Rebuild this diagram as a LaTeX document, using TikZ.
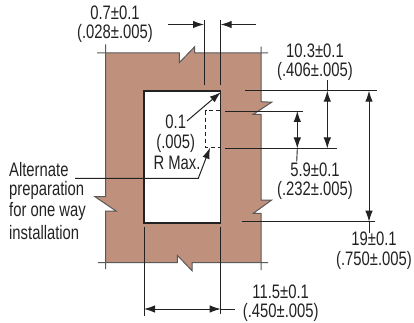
\documentclass[tikz,border=0pt]{standalone}
\usepackage{fontspec}
\setmainfont[FakeStretch=0.76]{Liberation Sans}
\usetikzlibrary{arrows.meta}
\definecolor{wood}{HTML}{BF917C}
\definecolor{ink}{HTML}{222222}
\tikzset{
    dimline/.style={draw=ink, line width=0.9pt},
    dimarrow/.style={draw=ink, line width=1pt, {Latex[length=11pt,width=7.5pt]}-{Latex[length=11pt,width=7.5pt]}},
    onearrow/.style={draw=ink, line width=1pt, -{Latex[length=11pt,width=7.5pt]}},
    label/.style={text=ink, inner sep=0pt, align=center, font=\fontsize{19.5}{23}\selectfont},
}
\begin{document}
\begin{tikzpicture}[x=1pt, y=-1pt]
    \useasboundingbox (0,0) rectangle (414,323);

    % board with break marks
    \fill[wood] (105.5,53) -- (179.3,53) -- (179.3,62.7) -- (194.7,46.7) -- (194.7,53) -- (261,53)
        -- (261,101.7) -- (271.7,102.2) -- (253.3,114.3) -- (261,114.3)
        -- (261,200) -- (271.7,200) -- (253.3,213.3) -- (261,213.3) -- (261,262.5)
        -- (192,262.5) -- (192,270.7) -- (177.3,255.3) -- (177.3,262.5) -- (105.5,262.5)
        -- (105.5,211) -- (116,211) -- (95,196.7) -- (105.5,196.7) -- cycle;
    \draw[draw=black!65, line width=1pt] (97,53) -- (179.3,53) -- (179.3,62.7) -- (194.7,46.7) -- (194.7,53) -- (268,53);
    \draw[draw=black!65, line width=1pt] (261,46.7) -- (261,101.7) -- (271.7,102.2) -- (253.3,114.3) -- (261,114.3)
        -- (261,200) -- (271.7,200) -- (253.3,213.3) -- (261,213.3) -- (261,270);
    \draw[draw=black!65, line width=1pt] (98,262.5) -- (177.3,262.5) -- (177.3,255.3) -- (192,270.7) -- (192,262.5) -- (268,262.5);
    \draw[draw=black!65, line width=1pt] (105.5,44.5) -- (105.5,196.7) -- (95,196.7) -- (116,211) -- (105.5,211) -- (105.5,269);

    % opening
    \draw[draw=ink, fill=white, line width=1.1pt] (144,91) rectangle (220.7,223);
    \draw[draw=ink, line width=1pt, dash pattern=on 4pt off 3pt] (220,111) -- (205.7,111) -- (205.7,147.7) -- (220,147.7);

    % coordinates of the extension lines
    \coordinate (w_a) at (204,24.5);
    \coordinate (w_b) at (220.7,24.5);
    \coordinate (w_l) at (168,24.5);
    \coordinate (w_r) at (256,24.5);
    \coordinate (t_a) at (327.3,90.7);
    \coordinate (t_b) at (369,90.7);
    \coordinate (t_c) at (297.3,111);
    \coordinate (m_a) at (297.3,148.5);
    \coordinate (m_b) at (327.3,148.5);
    \coordinate (e_a) at (369,221.7);
    \coordinate (b_a) at (144,309);
    \coordinate (b_b) at (220.7,309);
    \coordinate (b_t) at (235,309);

    \draw[dimline] (204,20) -- (204,85);
    \draw[dimline] (220.7,20) -- (220.7,85);
    \draw[onearrow] (w_l) -- (w_a);
    \draw[onearrow] (w_r) -- (w_b);

    \draw[dimline] (245,90.7) -- (377,90.7);
    \draw[dimline] (225,111) -- (303,111);
    \draw[dimline] (225,148.5) -- (336.7,148.5);
    \draw[dimline] (241.7,221.7) -- (375,221.7);
    \draw[dimline] (t_a) -- (327.3,80);
    \draw[dimline] (m_a) -- (296.7,161.7);
    \draw[dimline] (e_a) -- (369,233);
    \draw[dimarrow] (t_a) -- (m_b);
    \draw[dimarrow] (t_c) -- (m_a);
    \draw[dimarrow] (t_b) -- (e_a);

    \draw[dimline] (144,227.3) -- (144,316);
    \draw[dimline] (220.7,227.3) -- (220.7,314);
    \draw[dimarrow] (b_a) -- (b_b);
    \draw[dimline] (b_b) -- (b_t);

    % labels
    \node[label] (w_txt) at (115,13) {0.7±0.1};
    \node[label] (w_in) at (115,33.5) {(.028±.005)};
    \node[label] (t_txt) at (315,50.7) {10.3±0.1};
    \node[label] (t_in) at (315,71.7) {(.406±.005)};
    \node[label] (m_txt) at (315,170) {5.9±0.1};
    \node[label] (m_in) at (315,190.7) {(.232±.005)};
    \node[label] (e_txt) at (374,239) {19±0.1};
    \node[label] (e_in) at (374,260.7) {(.750±.005)};
    \node[label] (b_txt) at (280.7,291.7) {11.5±0.1};
    \node[label] (b_in) at (280.7,312.3) {(.450±.005)};
    \node[label] (r_txt) at (175.7,122) {0.1};
    \node[label] (r_in) at (175.7,143) {(.005)};
    \node[label] (r_max) at (177,163) {R Max.};
    \node[label, anchor=west] (alt_a) at (9,169.3) {Alternate};
    \node[label, anchor=west] (alt_b) at (9,190.7) {preparation};
    \node[label, anchor=west] (alt_c) at (9,211.7) {for one way};
    \node[label, anchor=west] (alt_d) at (9,232.7) {installation};

    % radius leaders
    \coordinate (r_tip) at (220.7,92.3);
    \coordinate (alt_tip) at (210,147.7);
    \draw[onearrow] (187,121) -- (r_tip);
    \draw[onearrow] (75,178.3) -- (198.3,178.3) -- (alt_tip);
\end{tikzpicture}
\end{document}
